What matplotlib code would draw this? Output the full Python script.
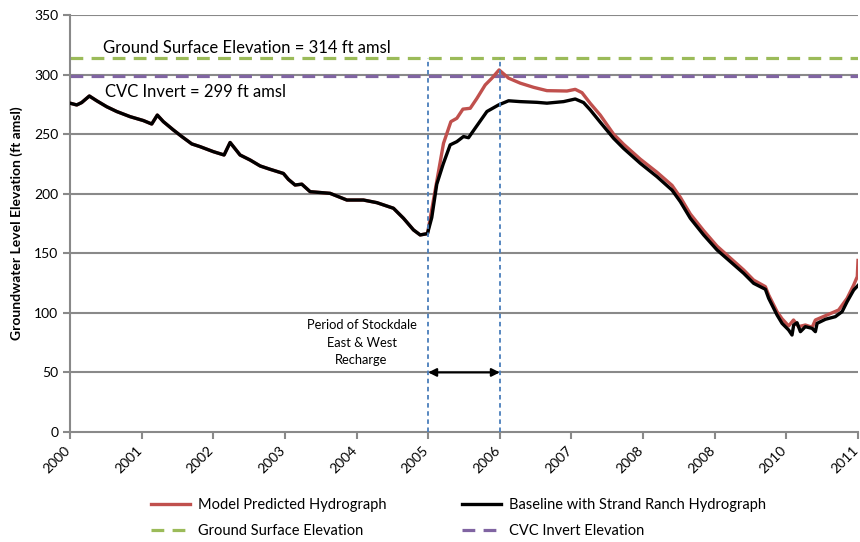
import matplotlib
matplotlib.use("Agg")
import matplotlib.pyplot as plt
import matplotlib.transforms as mtransforms
import numpy as np

plt.rcParams['font.family'] = ['Lato', 'DejaVu Sans']

# ---- data ----
base_years = [2000.0, 2000.094, 2000.163, 2000.27, 2000.373, 2000.513, 2000.652, 2000.838,
              2001.024, 2001.141, 2001.219, 2001.303, 2001.443, 2001.56, 2001.70, 2001.816,
              2002.001, 2002.151, 2002.235, 2002.374, 2002.514, 2002.654, 2002.793, 2002.979,
              2003.049, 2003.142, 2003.236, 2003.352, 2003.631, 2003.865, 2004.096, 2004.283,
              2004.515, 2004.655, 2004.795, 2004.888, 2004.99, 2005.05, 2005.10, 2005.12,
              2005.21, 2005.307, 2005.40, 2005.493, 2005.563, 2005.656, 2005.82, 2005.982,
              2006.122, 2006.285, 2006.518, 2006.658, 2006.89, 2007.053, 2007.169, 2007.263,
              2007.402, 2007.588, 2007.728, 2007.961, 2008.194, 2008.404, 2008.52, 2008.659,
              2008.845, 2009.032, 2009.218, 2009.404, 2009.543, 2009.707, 2009.753, 2009.87,
              2009.94, 2010.032, 2010.079, 2010.102, 2010.149, 2010.196, 2010.265, 2010.359,
              2010.405, 2010.429, 2010.545, 2010.684, 2010.778, 2010.848, 2010.94, 2011.0]
base_vals = [276, 274.5, 276.5, 282, 278, 273, 269, 264.7,
             261.4, 258.5, 266, 260.5, 253.5, 248, 241.8, 239.5,
             235.3, 232.5, 243, 232.5, 228.3, 223.3, 220.5, 217,
             212, 207.3, 208, 201.7, 200.3, 194.7, 194.7, 192.5,
             187.8, 179.4, 169.6, 165.4, 166.5, 180, 200, 208,
             225, 241, 243.7, 248, 247, 255, 269, 274.5,
             278, 277.3, 276.7, 276, 277.3, 279.5, 276.5, 270.3,
             260, 246.5, 238, 225.5, 214.3, 203, 193.3, 179.4,
             165.4, 152.8, 143, 133.2, 124.8, 119.8, 112.2, 98.2,
             91.2, 85.6, 81.4, 89.8, 91.7, 84.2, 88.4, 87,
             84.2, 91.2, 94.6, 96.8, 101, 109.4, 119.2, 123]

model_years = [2004.99, 2005.098, 2005.214, 2005.317, 2005.40, 2005.485, 2005.587, 2005.68,
               2005.796, 2005.89, 2005.99, 2006.122, 2006.285, 2006.471, 2006.658, 2006.937,
               2007.053, 2007.147, 2007.263, 2007.402, 2007.588, 2007.728, 2007.961, 2008.194,
               2008.404, 2008.52, 2008.659, 2008.845, 2009.032, 2009.218, 2009.404, 2009.543,
               2009.707, 2009.753, 2009.87, 2009.94, 2010.032, 2010.10, 2010.17, 2010.265,
               2010.36, 2010.405, 2010.568, 2010.73, 2010.848, 2010.94, 2010.99, 2011.0]
model_vals = [166.5, 203, 242.3, 260.5, 263.3, 271, 271.7, 280,
              291.3, 297, 303.9, 297, 292.8, 289.3, 286.5, 286.2,
              287.6, 284.8, 275.8, 266, 250, 241.5, 229, 218,
              207, 197, 183, 169, 156, 146, 136, 127.5,
              122, 115, 101, 95, 89, 94, 88.4, 89.8,
              87.9, 94, 98.2, 102.4, 112.2, 123.4, 130.4, 144]

ground_surface = 314
cvc_invert = 299
recharge_start = 2005
recharge_end = 2006
arrow_level = 50

xtick_pos = list(range(2000, 2012))
xtick_labels = ['2000', '2001', '2002', '2003', '2004', '2005', '2006', '2007',
                '2008', '2008', '2010', '2011']
ytick_pos = list(range(0, 351, 50))

# ---- figure ----
fig = plt.figure(figsize=(8.6, 5.42), dpi=100)
ax = fig.add_axes([70/860, 1-432/542, (858-70)/860, (432-15)/542])

grid_c = '#898989'
for y in ytick_pos[1:]:
    ax.axhline(y, color=grid_c, lw=1.5, zorder=1)

pre = [(x, v) for x, v in zip(base_years, base_vals) if x < model_years[0]]
mx = [p[0] for p in pre] + model_years
mv = [p[1] for p in pre] + model_vals

h_model, = ax.plot(mx, mv, color='#c0504d', lw=2.4, zorder=3,
                   label='Model Predicted Hydrograph')
h_base, = ax.plot(base_years, base_vals, color='black', lw=2.4, zorder=4,
                  label='Baseline with Strand Ranch Hydrograph')
h_gs = ax.axhline(ground_surface, color='#9bbb59', lw=2.3, ls=(0, (4, 2.6)), zorder=2,
                  label='Ground Surface Elevation')
h_cvc = ax.axhline(cvc_invert, color='#8064a2', lw=2.3, ls=(0, (4, 2.6)), zorder=2,
                   label='CVC Invert Elevation')

for xv in (recharge_start, recharge_end):
    ax.plot([xv, xv], [0, ground_surface], color='#4a7ebb', lw=1.3,
            ls=(0, (2.5, 2)), zorder=5)

ax.annotate('', xy=(recharge_start, arrow_level), xytext=(recharge_end, arrow_level),
            arrowprops=dict(arrowstyle='<|-|>', color='black', lw=1.5,
                            mutation_scale=12, shrinkA=0, shrinkB=0), zorder=6)

ax.text(recharge_start - 0.93, 75, 'Period of Stockdale\nEast & West\nRecharge',
        ha='center', va='center', fontsize=9.3, linespacing=1.55)

ax.text(2000.46, 322, 'Ground Surface Elevation = 314 ft amsl', fontsize=12, va='center')
ax.text(2000.49, 285, 'CVC Invert = 299 ft amsl', fontsize=12, va='center')

ax.set_xlim(2000, 2011)
ax.set_ylim(0, 350)
ax.set_xticks(xtick_pos)
ax.set_yticks(ytick_pos)
ax.tick_params(axis='both', colors=grid_c, labelcolor='black', labelsize=10,
               direction='out', length=5, width=1.5)
ax.set_xticklabels(xtick_labels, rotation=45, ha='right', rotation_mode='anchor')
offset = mtransforms.ScaledTranslation(-6/100, 0, fig.dpi_scale_trans)
for tick in ax.xaxis.get_major_ticks():
    tick.label1.set_transform(tick.label1.get_transform() + offset)
for s in ('top', 'right'):
    ax.spines[s].set_visible(False)
for s in ('left', 'bottom'):
    ax.spines[s].set_color(grid_c)
    ax.spines[s].set_linewidth(1.5)

ax.set_ylabel('Groundwater Level Elevation (ft amsl)', fontsize=10, fontweight='bold',
              labelpad=8)

fig.legend([h_model, h_gs, h_base, h_cvc],
           [h_model.get_label(), h_gs.get_label(), h_base.get_label(), h_cvc.get_label()],
           ncol=2, loc='upper left', bbox_to_anchor=(145/860, 1-492/542),
           frameon=False, fontsize=10.5, handlelength=2.7, columnspacing=5.2,
           handletextpad=0.5, labelspacing=0.85, borderaxespad=0)

fig.savefig('out.png', dpi=100)
